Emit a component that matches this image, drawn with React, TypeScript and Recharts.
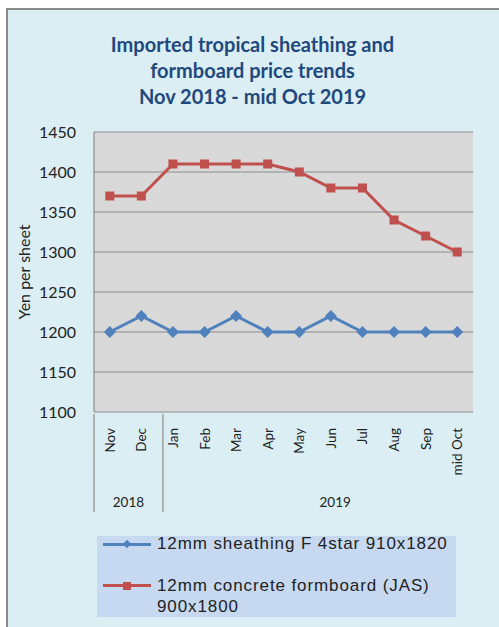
import React from 'react';
import { LineChart, Line, XAxis, YAxis, CartesianGrid, Label } from 'recharts';

const months = ['Nov', 'Dec', 'Jan', 'Feb', 'Mar', 'Apr', 'May', 'Jun', 'Jul', 'Aug', 'Sep', 'mid Oct'];
const sheathing = [1200, 1220, 1200, 1200, 1220, 1200, 1200, 1220, 1200, 1200, 1200, 1200];
const formboard = [1370, 1370, 1410, 1410, 1410, 1410, 1400, 1380, 1380, 1340, 1320, 1300];
const yTicks = [1100, 1150, 1200, 1250, 1300, 1350, 1400, 1450];
// year groups on a 0..12 band scale: label position and group boundaries
const yearLabels = ['2018', '2019'];
const yearCenters = [1, 7];
const yearBounds = [0, 2, 12];

const data = months.map((m, i) => ({ month: m, sheathing: sheathing[i], formboard: formboard[i] }));

const BLUE = '#4F81BD';
const RED = '#C0504D';
const GRID = '#8C8C8C';
const CAL = 'Lato, "Noto Sans", sans-serif';
const MONTH_AXIS_H = 75;

const Diamond = (props: any) => {
  const { cx, cy } = props;
  if (cx == null || cy == null) return null;
  return <polygon points={`${cx},${cy - 6} ${cx + 6},${cy} ${cx},${cy + 6} ${cx - 6},${cy}`} fill={BLUE} />;
};

const Square = (props: any) => {
  const { cx, cy } = props;
  if (cx == null || cy == null) return null;
  return <rect x={cx - 4.5} y={cy - 4.5} width={9} height={9} fill={RED} />;
};

const MonthTick = ({ x, y, payload }: any) => (
  <text
    x={0}
    y={0}
    transform={`translate(${x + 5},${y + 8}) rotate(-90)`}
    textAnchor="end"
    fontSize={13.5}
    fontFamily={CAL}
    fill="#222"
  >
    {payload.value}
  </text>
);

// year axis: group boundaries become separator lines reaching up to the plot, centers get labels
const YearTick = ({ x, y, payload }: any) => {
  const v = payload.value;
  if (yearBounds.includes(v)) {
    return <line x1={x} x2={x} y1={y - MONTH_AXIS_H - 6} y2={y + 17} stroke={GRID} strokeWidth={1.2} />;
  }
  return (
    <text x={x} y={y + 12} textAnchor="middle" fontSize={13.5} fontFamily={CAL} fill="#222">
      {yearLabels[yearCenters.indexOf(v)]}
    </text>
  );
};

const YLabel = ({ viewBox }: any) => {
  const cx = viewBox.x - 11;
  const cy = viewBox.y + viewBox.height / 2;
  return (
    <text x={0} y={0} transform={`translate(${cx},${cy}) rotate(-90)`} textAnchor="middle" dominantBaseline="central" fontSize={16} fontFamily={CAL} fill="#222">
      Yen per sheet
    </text>
  );
};

export default function App() {
  return (
    <div style={{ position: 'relative', width: 499, height: 627, background: '#fff', overflow: 'hidden' }}>
      <style>{'body{margin:0}'}</style>
      <div
        style={{
          position: 'absolute', left: 6, top: 8, width: 499, height: 627,
          background: '#DAEEF3', borderLeft: '2px solid #8A8A8A', borderTop: '2px solid #8A8A8A',
        }}
      />
      <div
        style={{
          position: 'absolute', left: 6, width: 493, top: 31, textAlign: 'center',
          fontFamily: CAL, fontWeight: 700, fontSize: 20, lineHeight: '26px', color: '#1F497D',
        }}
      >
        Imported tropical sheathing and<br />formboard price trends<br />Nov 2018 - mid Oct 2019
      </div>
      <div style={{ position: 'absolute', left: 0, top: 0 }}>
        <LineChart width={499} height={627} data={data} margin={{ top: 132, right: 26, left: 34, bottom: 110 }}>
          <CartesianGrid vertical={false} stroke={GRID} strokeWidth={1.2} fill="#D9D9D9" fillOpacity={1} yAxisId="left" />
          <XAxis
            xAxisId="m" dataKey="month" scale="band" height={MONTH_AXIS_H} interval={0}
            tick={<MonthTick />} tickLine={false} axisLine={false}
          />
          <XAxis
            xAxisId="y" type="number" domain={[0, 12]} ticks={[...yearBounds, ...yearCenters]} height={30} interval={0}
            tick={<YearTick />} tickLine={false} axisLine={false} allowDataOverflow
          />
          <YAxis
            yAxisId="left" width={60} domain={[1100, 1450]} ticks={yTicks} interval={0}
            tick={{ fontSize: 16, fontFamily: CAL, fill: '#222' }} tickLine={false} tickMargin={12}
            axisLine={{ stroke: GRID, strokeWidth: 1.2 }}
          >
            <Label content={<YLabel />} />
          </YAxis>
          <YAxis
            yAxisId="right" orientation="right" width={0} domain={[1100, 1450]} ticks={yTicks}
            tick={false} tickLine={false} axisLine={{ stroke: GRID, strokeWidth: 1.2 }}
          />
          <Line
            xAxisId="m" yAxisId="left" dataKey="sheathing" stroke={BLUE} strokeWidth={3}
            dot={<Diamond />} activeDot={false} isAnimationActive={false}
          />
          <Line
            xAxisId="m" yAxisId="left" dataKey="formboard" stroke={RED} strokeWidth={3}
            dot={<Square />} activeDot={false} isAnimationActive={false}
          />
        </LineChart>
      </div>
      <div
        style={{
          position: 'absolute', left: 97, top: 536, width: 359, height: 81, background: '#C6D9F1',
          fontFamily: '"Liberation Sans", Arial, sans-serif', fontSize: 17, letterSpacing: 0.9, color: '#222',
        }}
      >
        <div style={{ position: 'absolute', left: 6, top: 7, width: 48, height: 3, background: BLUE }} />
        <div style={{ position: 'absolute', left: 27, top: 4.5, width: 6, height: 6, background: BLUE, transform: 'rotate(45deg)' }} />
        <div style={{ position: 'absolute', left: 60, top: -2, lineHeight: '19px', whiteSpace: 'nowrap' }}>
          12mm sheathing F 4star 910x1820
        </div>
        <div style={{ position: 'absolute', left: 6, top: 48, width: 48, height: 3, background: RED }} />
        <div style={{ position: 'absolute', left: 26, top: 45.5, width: 8, height: 8, background: RED }} />
        <div style={{ position: 'absolute', left: 60, top: 39, lineHeight: '21px', whiteSpace: 'nowrap' }}>
          12mm concrete formboard (JAS)<br />900x1800
        </div>
      </div>
    </div>
  );
}
